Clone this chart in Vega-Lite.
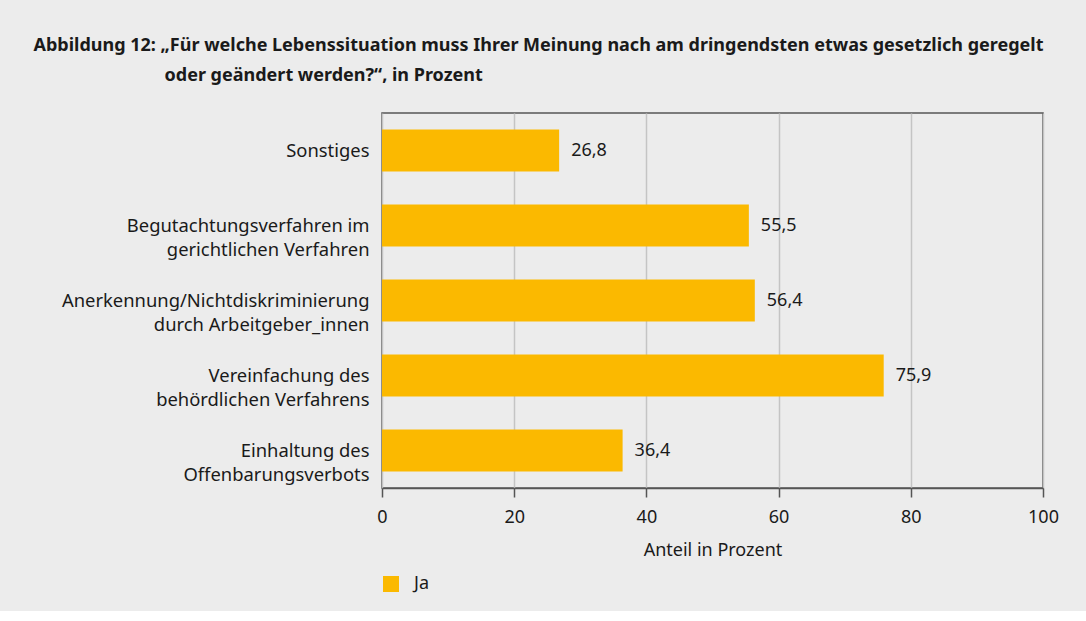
{
  "$schema": "https://vega.github.io/schema/vega-lite/v6.json",
  "background": "#ececec",
  "padding": {"left": 33, "top": 37, "right": 38, "bottom": 18},
  "width": 661,
  "height": 375,
  "title": {
    "text": ["Abbildung 12: „Für welche Lebenssituation muss Ihrer Meinung nach am dringendsten etwas gesetzlich geregelt", "\u200b\u00a0\u00a0\u00a0\u00a0\u00a0\u00a0\u00a0\u00a0\u00a0\u00a0\u00a0\u00a0\u00a0\u00a0\u00a0\u00a0\u00a0\u00a0\u00a0\u00a0\u00a0\u00a0\u00a0\u00a0\u00a0\u00a0\u00a0\u00a0oder geändert werden?“, in Prozent"],
    "anchor": "start",
    "frame": "bounds",
    "dx": -28,
    "font": "Noto Sans",
    "fontSize": 18,
    "fontWeight": "bold",
    "color": "#1a1a1a",
    "lineHeight": 30,
    "offset": 28
  },
  "config": {
    "locale": {"number": {"decimal": ",", "thousands": ".", "grouping": [3], "currency": ["", " €"]}},
    "font": "Noto Sans",
    "view": {"stroke": "#555555", "strokeWidth": 1.5},
    "axis": {"labelFont": "Noto Sans", "titleFont": "Noto Sans", "labelColor": "#1a1a1a", "titleColor": "#1a1a1a"}
  },
  "data": {
    "values": [
      {"kategorie": "Sonstiges", "wert": 26.8, "antwort": "Ja"},
      {"kategorie": "Begutachtungsverfahren im|gerichtlichen Verfahren", "wert": 55.5, "antwort": "Ja"},
      {"kategorie": "Anerkennung/Nichtdiskriminierung|durch Arbeitgeber_innen", "wert": 56.4, "antwort": "Ja"},
      {"kategorie": "Vereinfachung des|behördlichen Verfahrens", "wert": 75.9, "antwort": "Ja"},
      {"kategorie": "Einhaltung des|Offenbarungsverbots", "wert": 36.4, "antwort": "Ja"}
    ]
  },
  "encoding": {
    "y": {
      "field": "kategorie",
      "type": "nominal",
      "sort": null,
      "scale": {"paddingInner": 0.44, "paddingOuter": 0.22},
      "axis": {
        "title": null,
        "labelExpr": "split(datum.label, '|')",
        "labelFontSize": 18.4,
        "labelLineHeight": 24,
        "labelPadding": 13,
        "ticks": false,
        "domain": false,
        "labelLimit": 400
      }
    },
    "x": {
      "field": "wert",
      "type": "quantitative",
      "scale": {"domain": [0, 100], "nice": false},
      "axis": {
        "title": "Anteil in Prozent",
        "titleFontSize": 18,
        "titleFontWeight": "normal",
        "titlePadding": 15,
        "labelFontSize": 18,
        "labelPadding": 11,
        "labelFlush": false,
        "values": [0, 20, 40, 60, 80, 100],
        "tickSize": 9,
        "tickColor": "#555555",
        "tickWidth": 1.5,
        "domainColor": "#555555",
        "domainWidth": 1.5,
        "gridColor": "#c4c4c4",
        "gridWidth": 1.5
      }
    }
  },
  "layer": [
    {
      "mark": {"type": "bar", "color": "#fbb900"},
      "encoding": {
        "color": {
          "field": "antwort",
          "type": "nominal",
          "scale": {"range": ["#fbb900"]},
          "legend": {
            "title": null,
            "orient": "bottom",
            "symbolType": "square",
            "symbolSize": 256,
            "symbolStrokeWidth": 0,
            "labelFontSize": 18,
            "labelColor": "#1a1a1a",
            "labelOffset": 14,
            "offset": 16
          }
        }
      }
    },
    {
      "mark": {"type": "text", "align": "left", "dx": 12, "fontSize": 18, "color": "#1a1a1a", "baseline": "middle"},
      "encoding": {
        "text": {"field": "wert", "type": "quantitative", "format": ".1f"}
      }
    }
  ]
}
